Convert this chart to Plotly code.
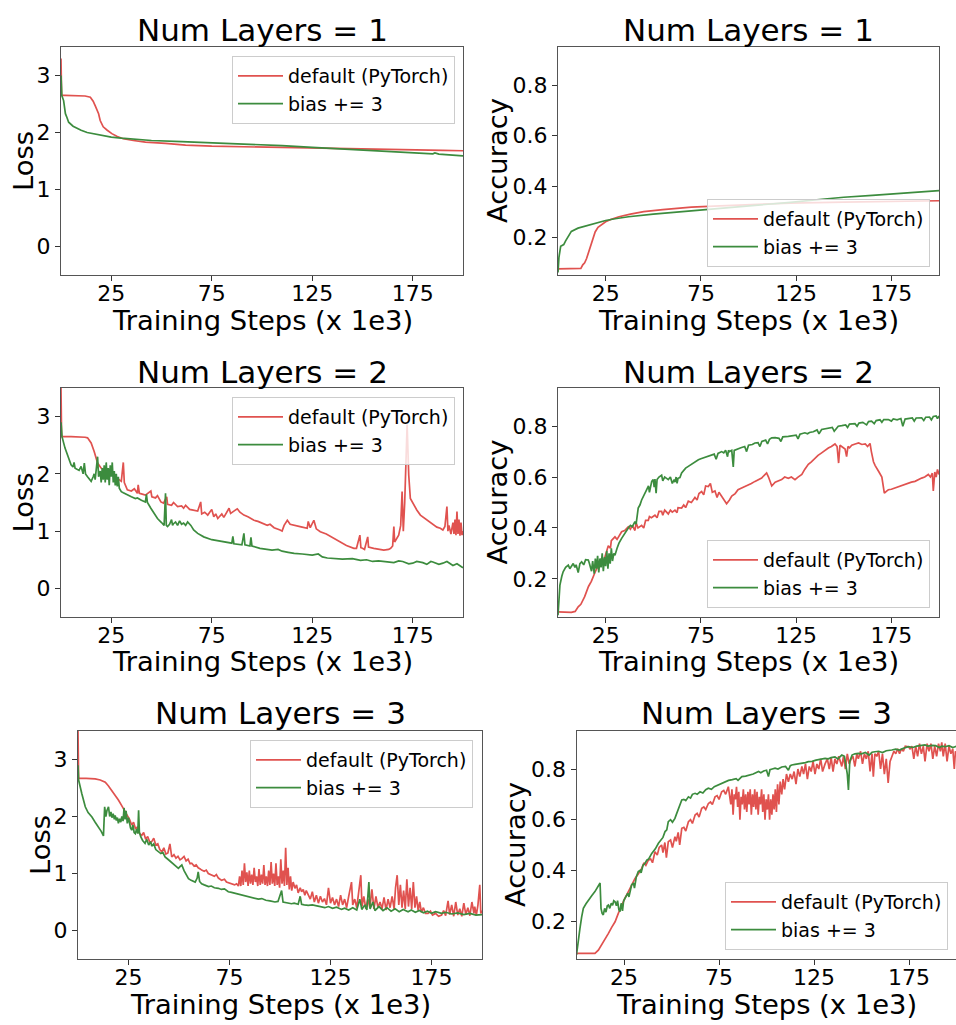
import plotly.graph_objects as go

W, H = 956, 1025
RED = "#e0524f"
GREEN = "#3c8c3e"
FONT = "DejaVu Sans"

# ---------------- data: (training steps x1e3, value) ----------------
loss1_default = [(0,3.3),(0.3,2.65),(2,2.65),(6,2.65),(10,2.65),(12,2.64),(14.6,2.62),(16,2.55),(17,2.47),(18.7,2.33),(19.5,2.21),(21,2.1),(23,2.04),(25.3,1.98),(28,1.93),(31,1.89),(36,1.86),(42,1.83),(52,1.81),(62,1.78),(75,1.76),(90,1.75),(100,1.745),(115,1.73),(125,1.72),(140,1.71),(150,1.70),(165,1.695),(175,1.69),(190,1.685),(200,1.68)]
loss1_bias = [(0,3.0),(0.4,2.65),(1.3,2.56),(2.2,2.33),(3,2.26),(3.8,2.18),(6,2.11),(8,2.07),(10,2.04),(13,2.0),(16,1.98),(19.5,1.95),(25,1.92),(30,1.9),(36,1.88),(45,1.86),(60,1.84),(75,1.82),(90,1.80),(110,1.77),(125,1.74),(140,1.71),(152,1.69),(165,1.66),(175,1.64),(185,1.625),(186,1.64),(188,1.62),(200,1.59)]

acc1_default = [(0,0.074),(3,0.074),(8,0.074),(12,0.076),(13,0.09),(14,0.098),(15,0.115),(16,0.14),(17,0.165),(18.3,0.2),(19.5,0.22),(21,0.238),(23,0.25),(25,0.26),(28,0.27),(32,0.28),(38,0.29),(45,0.3),(55,0.308),(70,0.318),(85,0.323),(100,0.327),(122,0.334),(150,0.338),(175,0.34),(200,0.343)]
acc1_bias = [(0,0.06),(0.5,0.12),(1.4,0.163),(3,0.17),(4,0.185),(5.2,0.2),(7,0.222),(10.5,0.235),(14,0.243),(17.5,0.251),(21,0.258),(25,0.265),(30,0.272),(37,0.28),(50,0.29),(70,0.303),(85,0.311),(100,0.32),(122,0.337),(140,0.35),(150,0.357),(165,0.364),(175,0.369),(190,0.377),(200,0.383)]

loss2_default = [(0,3.5),(0.3,2.65),(5,2.65),(10,2.65),(12,2.64),(13.2,2.63),(15,2.54),(16.5,2.39),(18.2,2.19),(20,2.1),(23,2.04),(26,1.98),(28,1.92),(30,1.87),(31,2.2),(31.5,1.85),(33,1.72),(35,1.7),(36.5,1.74),(38,1.66),(38.4,1.81),(39,1.66),(40,1.65),(42,1.63),(44.7,1.7),(45.2,1.6),(47,1.58),(48,1.62),(49.7,1.51),(51,1.49),(52.6,1.6),(53,1.47),(55,1.45),(56,1.5),(58,1.43),(60,1.44),(61,1.4),(62,1.45),(64,1.38),(66,1.37),(68,1.35),(69.5,1.51),(70,1.3),(71.5,1.33),(73,1.28),(75,1.38),(76,1.25),(77,1.3),(78,1.22),(80,1.3),(81,1.24),(83.6,1.4),(84.4,1.31),(86,1.35),(87.7,1.39),(89,1.33),(91,1.28),(93,1.25),(96,1.19),(98,1.17),(100,1.14),(102.6,1.1),(104,1.12),(106,1.06),(109,1.02),(110,1.0),(111,1.1),(112.6,1.19),(114,1.12),(116,1.1),(118,1.08),(120,1.07),(122.5,1.05),(123,1.17),(124,1.06),(125.8,1.19),(127,1.04),(129,0.99),(132,0.95),(134,0.91),(136,0.87),(139,0.8),(142,0.75),(145.7,0.70),(147,0.7),(148.7,0.93),(149.2,0.71),(150,0.7),(151,0.68),(152.6,0.9),(153,0.72),(155.6,0.70),(158,0.68),(160.6,0.67),(163,0.68),(164,0.7),(165,0.74),(165.6,1.08),(166,0.81),(167,0.88),(168,0.93),(169,1.1),(169.7,1.69),(170.3,1.0),(171,1.5),(172.2,2.86),(173,1.98),(173.8,1.57),(175.5,1.46),(177,1.37),(178.8,1.28),(180,1.25),(182,1.19),(184,1.14),(185.4,1.1),(187,1.07),(188.7,1.05),(190,1.02),(191,1.08),(192,1.43),(192.5,1.0),(193,1.1),(194,0.95),(195,1.15),(195.5,0.95),(196,1.2),(196.5,0.93),(197,1.34),(197.5,0.95),(198,1.2),(198.5,0.92),(199,1.15),(199.5,0.93),(200,1.0)]
loss2_bias = [(0,2.9),(0.5,2.65),(2,2.45),(3.3,2.33),(4,2.24),(5,2.16),(6,2.12),(6.5,2.2),(7,2.1),(8.3,2.08),(9,2.06),(10,2.13),(11,2.0),(11.6,2.19),(12.2,2.0),(13.2,1.95),(14,1.92),(15,1.87),(16,1.95),(16.5,2.0),(17,1.9),(18.2,2.3),(18.7,1.95),(19.5,2.05),(20,1.85),(20.5,2.1),(21,1.9),(21.5,2.15),(22,1.85),(22.5,2.2),(23,1.9),(23.5,2.1),(24,1.8),(24.5,2.15),(25,1.95),(25.5,2.2),(26,1.85),(26.5,2.05),(27,1.8),(27.5,2.0),(28,1.78),(28.5,1.95),(29,1.75),(30,1.69),(31,1.67),(33,1.63),(35,1.6),(37,1.57),(38,1.58),(40,1.54),(41,1.53),(42,1.51),(42.5,1.64),(43,1.5),(44.7,1.4),(46,1.32),(48,1.22),(50,1.15),(51.3,1.1),(52,1.66),(52.4,1.1),(53,1.08),(54,1.12),(55,1.2),(55.5,1.1),(56,1.13),(57,1.16),(58,1.1),(59,1.18),(60,1.12),(61,1.14),(62,1.1),(63,1.16),(64.6,1.1),(66,1.02),(68,0.96),(71,0.9),(75,0.85),(79.5,0.82),(82,0.8),(85,0.79),(85.5,0.91),(86,0.78),(90,0.76),(91,0.96),(91.5,0.76),(94,0.74),(94.5,0.89),(95,0.74),(99,0.7),(102,0.69),(105,0.67),(108,0.68),(110,0.65),(113,0.63),(116,0.61),(120,0.6),(125,0.58),(128,0.6),(130,0.55),(132.5,0.53),(136,0.52),(140,0.51),(145,0.52),(149,0.49),(152,0.5),(155,0.47),(158,0.48),(160,0.47),(165.6,0.45),(168,0.48),(170,0.47),(173,0.43),(175,0.44),(177,0.47),(180,0.45),(182,0.42),(184,0.47),(185,0.46),(188,0.42),(190,0.44),(192,0.47),(195,0.4),(197,0.43),(200,0.36)]

acc2_default = [(0,0.07),(3,0.068),(7,0.068),(9,0.072),(10.6,0.09),(12,0.1),(14,0.13),(16,0.17),(17.5,0.19),(19.4,0.225),(21,0.25),(22.9,0.28),(24,0.27),(25,0.3),(26.4,0.33),(27.5,0.32),(28,0.35),(29.9,0.365),(31,0.355),(33.4,0.385),(35,0.39),(36.9,0.405),(38,0.395),(39,0.41),(40.4,0.39),(41,0.42),(42,0.4),(43.9,0.41),(45,0.4),(46,0.43),(47.4,0.43),(48,0.445),(49,0.44),(50.9,0.45),(52,0.44),(53,0.465),(54.4,0.465),(55,0.45),(56,0.47),(57.9,0.455),(59,0.47),(60,0.462),(61.4,0.47),(62.5,0.46),(63,0.48),(64.9,0.478),(66,0.49),(67,0.48),(68.4,0.505),(70,0.5),(71.9,0.52),(73,0.51),(74,0.535),(75.4,0.543),(76.5,0.53),(77.5,0.565),(78.9,0.563),(80,0.575),(81,0.54),(82.4,0.545),(83.5,0.52),(84.5,0.54),(85.9,0.524),(87,0.51),(88.5,0.495),(90,0.51),(91.2,0.525),(93,0.535),(94.5,0.55),(96.4,0.557),(98,0.562),(99.9,0.57),(101.5,0.575),(103.4,0.583),(105,0.59),(106.9,0.596),(108,0.605),(109.5,0.616),(110.5,0.6),(111.5,0.58),(112.2,0.565),(114,0.58),(115.5,0.585),(117.4,0.59),(119,0.6),(120.9,0.595),(122.5,0.6),(124.4,0.59),(126,0.6),(128,0.61),(129.5,0.63),(131.4,0.65),(133,0.66),(134.9,0.675),(136.5,0.685),(138.4,0.695),(140,0.705),(141.9,0.714),(143.5,0.72),(145.4,0.73),(146.5,0.72),(147.3,0.655),(148,0.725),(149,0.72),(150.7,0.71),(151.5,0.68),(152.2,0.72),(153,0.715),(154.2,0.725),(156,0.73),(157.8,0.734),(159.5,0.728),(161.3,0.73),(162.5,0.72),(163.8,0.732),(164.5,0.7),(165.6,0.66),(166.5,0.645),(167.3,0.636),(168.5,0.62),(170,0.6),(171.3,0.537),(172.5,0.545),(173.4,0.55),(175,0.552),(176.9,0.557),(178.5,0.563),(180,0.565),(182.2,0.57),(184,0.575),(185.5,0.58),(187.4,0.583),(189,0.59),(190.9,0.596),(192.5,0.6),(194.4,0.61),(195.5,0.6),(196.5,0.615),(197,0.545),(197.8,0.62),(198.5,0.6),(199.2,0.63),(200,0.61)]
acc2_bias = [(0,0.057),(0.5,0.12),(1,0.175),(2,0.21),(2.7,0.228),(4,0.245),(5.4,0.254),(6.2,0.24),(7.1,0.25),(8,0.26),(8.9,0.245),(9.5,0.255),(10.6,0.225),(11.5,0.26),(12.4,0.267),(13.5,0.255),(14.5,0.275),(15.9,0.274),(16.5,0.26),(17.6,0.23),(18.2,0.27),(19,0.22),(19.6,0.28),(20.2,0.24),(20.8,0.29),(21.4,0.225),(22,0.28),(22.6,0.245),(23.2,0.3),(23.8,0.23),(24.4,0.285),(25,0.25),(25.6,0.31),(26.2,0.24),(26.8,0.3),(27.4,0.26),(28,0.32),(28.6,0.27),(29.3,0.3),(29.9,0.293),(31,0.32),(32,0.34),(33.4,0.359),(35,0.38),(36.9,0.4),(38,0.41),(39,0.405),(40.4,0.425),(41,0.415),(42.1,0.478),(43,0.49),(43.9,0.51),(45,0.53),(46.5,0.55),(47.5,0.565),(48,0.54),(49.2,0.583),(50,0.59),(50.5,0.56),(50.9,0.592),(51.5,0.537),(52,0.59),(53,0.6),(54.4,0.607),(55,0.585),(56,0.6),(57,0.595),(57.9,0.59),(59,0.6),(60,0.575),(61,0.59),(61.4,0.58),(62,0.6),(62.5,0.575),(63,0.595),(64,0.598),(64.9,0.616),(66,0.625),(67,0.635),(68.4,0.642),(70,0.65),(71.5,0.66),(73.7,0.668),(75,0.672),(77,0.678),(78.9,0.682),(80,0.685),(82,0.69),(83,0.67),(84,0.693),(85.9,0.7),(87,0.695),(88,0.705),(89,0.68),(89.5,0.705),(90,0.7),(91.2,0.705),(92,0.64),(92.5,0.705),(94,0.71),(96,0.715),(98,0.72),(99,0.7),(100,0.725),(102,0.728),(103.4,0.734),(105,0.735),(106,0.72),(107,0.74),(109,0.745),(110,0.73),(111,0.748),(112.2,0.754),(114,0.755),(116,0.752),(117,0.74),(118,0.758),(120.9,0.76),(123,0.762),(125,0.765),(126,0.75),(127,0.768),(129.6,0.774),(131,0.77),(132,0.775),(134,0.778),(136,0.785),(137,0.77),(138.4,0.787),(140,0.79),(142,0.792),(144,0.795),(145,0.78),(147.1,0.8),(149,0.802),(151,0.805),(152,0.795),(153,0.808),(155.9,0.81),(157,0.8),(158,0.812),(160,0.815),(162,0.805),(163,0.818),(164.6,0.82),(166,0.81),(167,0.822),(169,0.825),(170,0.815),(171,0.826),(173.4,0.826),(175,0.82),(176,0.828),(178,0.825),(180,0.83),(181,0.8),(182.2,0.828),(184,0.83),(186,0.832),(187,0.82),(188,0.832),(190.9,0.833),(192,0.822),(193,0.835),(195,0.836),(196,0.825),(197,0.838),(198.5,0.84),(199.2,0.83),(200,0.84)]

loss3_default = [(0,3.5),(0.3,2.67),(4,2.67),(8.5,2.66),(11,2.64),(13.5,2.6),(15,2.54),(16.7,2.46),(18.4,2.37),(20,2.29),(21.5,2.2),(22.5,2.14),(23.5,2.08),(24.5,2.02),(25.5,1.95),(26.6,1.85),(27.5,1.9),(28.5,1.78),(29.5,1.82),(30.5,1.7),(31.6,1.67),(32.5,1.72),(33.5,1.6),(34.5,1.65),(35.5,1.55),(36.5,1.56),(37.5,1.62),(38.5,1.5),(39.5,1.52),(40.5,1.42),(41.5,1.38),(42.5,1.45),(43.5,1.34),(44.5,1.36),(45.5,1.52),(46.4,1.29),(47.5,1.33),(48.5,1.27),(49.5,1.3),(50.5,1.24),(51.4,1.26),(52.5,1.3),(53.5,1.22),(54.5,1.25),(55.5,1.17),(56.3,1.18),(57.5,1.13),(58.5,1.15),(59.5,1.1),(60.5,1.08),(61.2,1.06),(62.5,1.04),(63.5,1.06),(64.5,1.0),(66.2,0.97),(67.5,0.95),(68.5,0.98),(69.5,0.92),(71.1,0.88),(72.5,0.9),(73.5,0.85),(75,0.83),(76.1,0.82),(77.5,0.8),(78.5,0.82),(79.4,0.78),(80,0.95),(80.6,0.78),(81.2,1.05),(81.8,0.8),(82.4,1.18),(83,0.85),(83.6,1.02),(84.2,0.78),(84.8,1.05),(85.4,0.82),(86,0.98),(86.6,0.8),(87.2,1.1),(87.8,0.85),(88.4,0.95),(89,0.78),(89.6,1.08),(90.2,0.8),(90.8,0.98),(91.4,0.82),(92,1.15),(92.6,0.8),(93.2,0.95),(93.8,0.78),(94.4,1.05),(95,0.8),(95.6,1.2),(96.2,0.82),(96.8,1.0),(97.4,0.78),(98,1.18),(98.6,0.8),(99.2,0.95),(99.8,0.75),(100.4,1.25),(101,0.82),(101.6,1.05),(102.2,0.78),(102.8,1.45),(103.4,0.8),(104,1.1),(104.6,0.72),(105.2,0.95),(105.8,0.7),(106.5,0.85),(107.4,0.74),(108.2,0.8),(109,0.66),(110,0.75),(110.7,0.68),(111.5,0.72),(112.3,0.62),(113,0.7),(114,0.62),(115,0.55),(116,0.68),(117,0.5),(118,0.62),(119,0.48),(120,0.6),(121,0.5),(122,0.56),(123,0.45),(124,0.75),(125,0.48),(126,0.58),(127,0.45),(128,0.55),(129,0.42),(130,0.62),(131,0.45),(132,0.55),(133,0.4),(134,0.6),(135.4,0.85),(136,0.45),(137,0.55),(138,0.4),(139,0.65),(140,0.97),(140.6,0.42),(141.5,0.6),(142.5,0.38),(143.5,0.55),(144.5,0.4),(145.5,0.72),(146.5,0.38),(147.5,0.6),(148.5,0.4),(149.5,0.5),(150.5,0.38),(151.5,0.58),(152.5,0.36),(153.5,0.55),(154.5,0.4),(155.5,0.6),(156.5,0.38),(157.2,0.75),(158,0.97),(158.8,0.45),(159.6,0.8),(160.4,0.4),(161.2,0.7),(162,0.38),(162.8,0.9),(163.6,0.42),(164.4,0.75),(165.2,0.38),(166,0.85),(166.8,0.4),(167.6,0.6),(168.4,0.35),(169.2,0.5),(170,0.32),(171,0.4),(172,0.3),(173.3,0.3),(174.5,0.34),(175.5,0.27),(177,0.3),(178.5,0.25),(180,0.27),(181,0.35),(182,0.26),(183.2,0.52),(184,0.28),(185,0.45),(186,0.25),(187,0.5),(188,0.27),(189,0.38),(190,0.25),(191,0.48),(192,0.28),(193,0.4),(194,0.26),(195,0.5),(196,0.3),(196.4,0.42),(197.2,0.27),(198,0.45),(198.9,0.8),(199.4,0.3),(200,0.35)]
loss3_bias = [(0,2.9),(0.3,2.64),(1.9,2.4),(3.6,2.17),(5,2.07),(6.9,1.99),(8.5,1.9),(10.2,1.82),(11.5,1.74),(12.6,1.66),(13.2,2.17),(13.8,2.0),(14.3,2.1),(15.1,2.17),(15.7,2.0),(16.3,2.08),(16.8,1.98),(17.4,2.05),(18,1.95),(18.4,2.02),(19,1.93),(19.5,1.98),(20,1.88),(20.6,1.96),(21.2,1.9),(21.7,2.0),(22.3,1.92),(22.8,2.15),(23.3,1.95),(23.8,2.1),(24.4,1.88),(25,1.98),(25.5,1.85),(26,1.8),(26.6,1.76),(27.2,1.85),(27.8,1.72),(28.4,1.7),(29,1.78),(29.6,1.7),(30,2.11),(30.4,1.72),(31,1.65),(32,1.58),(33.2,1.53),(34,1.6),(35,1.5),(36,1.56),(36.5,1.48),(37.5,1.52),(38.5,1.42),(39.8,1.38),(41,1.35),(42,1.37),(43.1,1.29),(44.5,1.25),(45.5,1.22),(46.4,1.18),(48,1.14),(49.7,1.09),(50.5,1.12),(51.4,1.15),(52.5,1.05),(53.5,0.98),(54.7,0.91),(56,0.88),(57,0.86),(58,0.85),(59,0.92),(59.5,1.03),(60.2,0.86),(61.2,0.82),(62.5,0.8),(64.6,0.77),(66,0.78),(67.5,0.75),(69.5,0.74),(71,0.72),(72.5,0.73),(74.4,0.68),(76,0.67),(78,0.65),(79.5,0.64),(81,0.62),(83,0.6),(85,0.58),(87,0.57),(89.3,0.55),(91,0.56),(93,0.53),(95,0.52),(97.5,0.5),(99,0.51),(100.8,0.7),(101.5,0.5),(103,0.49),(105.7,0.47),(107,0.48),(109,0.46),(110,0.6),(110.7,0.46),(112,0.45),(114,0.44),(116,0.45),(118,0.43),(120,0.42),(122.2,0.4),(124,0.42),(126,0.39),(128,0.41),(130.5,0.37),(132,0.39),(134,0.36),(136,0.4),(138,0.36),(139.5,0.55),(140.5,0.37),(142,0.45),(143,0.36),(144,0.85),(144.6,0.38),(146,0.5),(147,0.35),(149,0.42),(151,0.35),(153,0.4),(155,0.34),(157,0.38),(159,0.33),(161,0.37),(163.4,0.33),(165,0.36),(167,0.32),(169,0.35),(171,0.31),(173,0.34),(175,0.3),(177,0.33),(180,0.3),(182,0.32),(185,0.29),(188,0.31),(191,0.28),(194,0.3),(197,0.27),(200,0.28)]

acc3_default = [(0,0.072),(5,0.072),(9.7,0.072),(11.5,0.085),(13.2,0.105),(15,0.13),(16.8,0.151),(18.5,0.175),(20.3,0.197),(22,0.23),(23.8,0.263),(25.5,0.29),(27.3,0.316),(29,0.34),(30.8,0.368),(32.5,0.385),(34.3,0.408),(35.5,0.43),(36.5,0.42),(37.8,0.44),(39,0.445),(40,0.43),(41.3,0.474),(42.5,0.46),(43.5,0.49),(44.8,0.5),(45.5,0.47),(46.5,0.51),(47.3,0.45),(48.3,0.513),(49.5,0.52),(50.5,0.49),(51.8,0.533),(52.5,0.515),(53.5,0.55),(54.3,0.5),(55.4,0.566),(56.5,0.57),(57.5,0.555),(58.9,0.592),(60,0.6),(61,0.585),(62.4,0.618),(63.5,0.625),(64.5,0.61),(65.9,0.645),(67,0.65),(68,0.64),(69.4,0.664),(70.5,0.67),(71.5,0.66),(72.9,0.69),(74,0.695),(75,0.68),(76.4,0.71),(77.5,0.715),(78.5,0.7),(79.9,0.73),(80.6,0.7),(81.2,0.66),(81.8,0.72),(82.4,0.62),(83,0.7),(83.6,0.68),(84.2,0.73),(84.8,0.65),(85.4,0.71),(86,0.6),(86.6,0.69),(87.2,0.66),(87.8,0.72),(88.4,0.64),(89,0.7),(89.6,0.63),(90.2,0.71),(90.8,0.66),(91.4,0.72),(92,0.62),(92.6,0.7),(93.2,0.65),(93.8,0.72),(94.4,0.64),(95,0.71),(95.6,0.62),(96.2,0.69),(96.8,0.66),(97.4,0.72),(98,0.63),(98.6,0.7),(99.2,0.6),(99.8,0.68),(100.4,0.64),(101,0.7),(101.6,0.6),(102.2,0.68),(102.8,0.62),(103.4,0.7),(104,0.64),(104.6,0.72),(105.2,0.63),(105.8,0.74),(106.5,0.66),(107.2,0.75),(108,0.7),(108.7,0.76),(109.5,0.72),(110.5,0.78),(111.5,0.75),(112.5,0.78),(113.5,0.76),(114.5,0.79),(115.5,0.74),(116.5,0.8),(117.5,0.77),(118.6,0.81),(119.5,0.78),(120.5,0.82),(121.5,0.76),(122.5,0.81),(123.5,0.79),(124.5,0.83),(125.5,0.78),(126.5,0.82),(127.5,0.8),(128.5,0.84),(129.5,0.79),(130.8,0.82),(132,0.84),(133,0.8),(134,0.845),(135,0.79),(136,0.84),(137,0.82),(138,0.85),(139.6,0.81),(140.5,0.85),(141.5,0.8),(142.5,0.86),(143.5,0.82),(144.5,0.84),(145.5,0.85),(146.5,0.81),(147.5,0.86),(148.3,0.84),(149.5,0.87),(150.5,0.82),(151.5,0.86),(152.5,0.84),(153.5,0.87),(154.5,0.79),(155.5,0.86),(156.2,0.77),(157,0.86),(158,0.85),(159,0.87),(160,0.8),(161,0.86),(162,0.78),(163,0.84),(164,0.745),(165,0.83),(166,0.85),(167,0.87),(168,0.86),(169,0.88),(170,0.86),(171,0.88),(172,0.87),(173,0.89),(174.7,0.888),(175.5,0.88),(176.5,0.89),(177.5,0.84),(178.5,0.89),(179.5,0.85),(180.5,0.9),(181.5,0.86),(182.5,0.89),(183.4,0.83),(184.5,0.9),(185.5,0.87),(186.5,0.9),(187.5,0.84),(188.5,0.89),(189.5,0.85),(190.5,0.9),(191.5,0.87),(192.2,0.905),(193,0.85),(194,0.9),(195,0.83),(196,0.89),(197,0.86),(198,0.88),(198.8,0.8),(199.4,0.87),(200,0.85)]
acc3_bias = [(0,0.066),(0.8,0.12),(1.8,0.17),(2.7,0.215),(3.6,0.25),(5,0.268),(6.2,0.283),(8,0.3),(9.7,0.316),(11,0.333),(12.4,0.35),(12.9,0.25),(13.5,0.23),(14.1,0.224),(14.8,0.25),(15.5,0.235),(16.2,0.26),(16.8,0.263),(17.5,0.25),(18.3,0.27),(19,0.262),(19.6,0.28),(20.3,0.276),(21,0.26),(21.6,0.28),(22.3,0.245),(22.9,0.237),(23.5,0.27),(24.2,0.24),(24.8,0.28),(25.5,0.29),(26.2,0.3),(27,0.31),(27.6,0.295),(29,0.342),(30,0.35),(30.5,0.33),(31.5,0.375),(32.5,0.395),(33.5,0.4),(34,0.39),(35,0.42),(36.1,0.428),(37,0.44),(38,0.445),(39.6,0.467),(40.5,0.475),(41.5,0.485),(43.1,0.507),(44.5,0.52),(45.5,0.53),(46.6,0.553),(47.5,0.56),(48.3,0.592),(49.5,0.6),(50.5,0.59),(51.8,0.605),(52.5,0.62),(53.6,0.645),(54.5,0.66),(55.4,0.678),(56.5,0.68),(57.5,0.675),(58.9,0.69),(60,0.685),(61,0.7),(62.4,0.704),(63.5,0.7),(65,0.71),(66.5,0.705),(68,0.718),(69.4,0.724),(71,0.72),(72.5,0.73),(74,0.735),(76,0.74),(78.2,0.75),(80,0.755),(82,0.758),(84,0.762),(85,0.755),(87,0.77),(89,0.772),(91,0.776),(93,0.78),(95.8,0.79),(97,0.785),(98.5,0.792),(100,0.795),(101,0.77),(101.8,0.797),(103,0.8),(104.5,0.803),(106,0.8),(108,0.808),(110,0.81),(111.5,0.795),(112.5,0.813),(113.3,0.816),(115,0.818),(117,0.82),(119,0.822),(120.5,0.825),(122,0.829),(124,0.83),(126,0.835),(128,0.838),(130.8,0.842),(132.5,0.84),(134,0.845),(136,0.848),(137.5,0.84),(139.6,0.855),(141,0.85),(142.5,0.78),(143.1,0.717),(143.8,0.83),(145,0.855),(146.5,0.86),(148.3,0.862),(150,0.86),(152,0.865),(154,0.855),(155.5,0.866),(157,0.868),(159,0.87),(161,0.865),(163,0.872),(165.9,0.875),(168,0.878),(170,0.875),(172,0.882),(174.7,0.888),(177,0.885),(179,0.89),(181,0.893),(183.4,0.895),(185,0.89),(187,0.893),(189,0.892),(191,0.885),(192.2,0.89),(194,0.888),(196,0.892),(198,0.885),(199.2,0.888),(200,0.89)]

titles = ["Num Layers = 1", "Num Layers = 1", "Num Layers = 2", "Num Layers = 2", "Num Layers = 3", "Num Layers = 3"]
ylabels = ["Loss", "Accuracy", "Loss", "Accuracy", "Loss", "Accuracy"]
xlabel = "Training Steps (x 1e3)"
series_names = ["default (PyTorch)", "bias += 3"]
x_ticks = [25, 75, 125, 175]
loss_ticks = [0, 1, 2, 3]
acc_ticks = [0.2, 0.4, 0.6, 0.8]
loss_range = [-0.5, 3.5]
acc_range = [0.05, 0.95]

# ---------------- layout geometry (pixels) ----------------
def fx(px):
    return px / W

def fy(py):
    return 1 - py / H

# (left, right, top, bottom) in px, x max shown
boxes = [
    (61, 463, 47, 275, 200),
    (558, 939, 47, 275, 200),
    (61, 463, 388, 617, 200),
    (558, 939, 388, 617, 200),
    (78, 482, 731, 959, 200),
    (576.5, 956, 731, 959, 199.7),
]
# legend anchor: (x px, y px, yanchor)
legend_pos = [
    (455, 56, "top"),
    (930, 267, "bottom"),
    (455, 397, "top"),
    (930, 608, "bottom"),
    (473, 740, "top"),
    (948, 950, "bottom"),
]
ytitle_x = [23, 497, 23, 497, 40, 515]
xtitle_y = [320, 320, 661, 661, 1004, 1004]
title_y = [30, 30, 372, 372, 713, 713]

data_pairs = [
    (loss1_default, loss1_bias),
    (acc1_default, acc1_bias),
    (loss2_default, loss2_bias),
    (acc2_default, acc2_bias),
    (loss3_default, loss3_bias),
    (acc3_default, acc3_bias),
]

fig = go.Figure()
layout = dict(
    width=W, height=H,
    margin=dict(l=0, r=0, t=0, b=0),
    paper_bgcolor="white", plot_bgcolor="white",
    font=dict(family=FONT, color="black"),
    showlegend=True,
)
annotations = []

for i in range(6):
    n = i + 1
    ax = "" if n == 1 else str(n)
    left, right, top, bottom, xmax = boxes[i]
    is_loss = (i % 2 == 0)
    red, green = data_pairs[i]
    legname = "legend" if n == 1 else f"legend{n}"
    for (vals, color, name) in [(red, RED, series_names[0]), (green, GREEN, series_names[1])]:
        fig.add_trace(go.Scatter(
            x=[p[0] for p in vals], y=[p[1] for p in vals],
            mode="lines", name=name,
            line=dict(color=color, width=1.7),
            xaxis="x" + ax, yaxis="y" + ax,
            legend=legname, hoverinfo="skip",
        ))
    axis_common = dict(
        showline=True, mirror=True, linecolor="#555555", linewidth=1,
        ticks="outside", ticklen=5, tickwidth=1, tickcolor="#333333",
        showgrid=False, zeroline=False,
        tickfont=dict(family=FONT, size=22, color="black"),
    )
    layout["xaxis" + ax] = dict(
        axis_common, domain=[fx(left), fx(right)], range=[0, xmax],
        tickvals=x_ticks, anchor="y" + ax, ticklabelstandoff=-6,
    )
    layout["yaxis" + ax] = dict(
        axis_common, domain=[fy(bottom), fy(top)],
        range=loss_range if is_loss else acc_range,
        tickvals=loss_ticks if is_loss else acc_ticks,
        ticktext=[str(t) for t in (loss_ticks if is_loss else acc_ticks)],
        anchor="x" + ax,
    )
    lx, ly, yanc = legend_pos[i]
    layout[legname] = dict(
        x=fx(lx), y=fy(ly), xanchor="right", yanchor=yanc,
        xref="paper", yref="paper",
        bgcolor="rgba(255,255,255,0.8)", bordercolor="#cccccc", borderwidth=1,
        font=dict(family=FONT, size=19, color="black"),
        itemwidth=45, tracegroupgap=0,
    )
    cx = (left + right) / 2
    annotations.append(dict(
        text=titles[i], x=fx(cx), y=fy(title_y[i]), xref="paper", yref="paper",
        xanchor="center", yanchor="middle", showarrow=False,
        font=dict(family=FONT, size=31, color="black"),
    ))
    annotations.append(dict(
        text=xlabel, x=fx(cx), y=fy(xtitle_y[i]), xref="paper", yref="paper",
        xanchor="center", yanchor="middle", showarrow=False,
        font=dict(family=FONT, size=27.4, color="black"),
    ))
    annotations.append(dict(
        text=ylabels[i], x=fx(ytitle_x[i]), y=fy((top + bottom) / 2),
        xref="paper", yref="paper", xanchor="center", yanchor="middle",
        textangle=-90, showarrow=False,
        font=dict(family=FONT, size=27.4, color="black"),
    ))

layout["annotations"] = annotations
fig.update_layout(**layout)
fig.write_html(
    "out.html",
    config={"displayModeBar": False, "staticPlot": True},
    post_script="document.body.style.margin='0px';document.body.style.padding='0px';document.body.style.overflow='hidden';",
)
